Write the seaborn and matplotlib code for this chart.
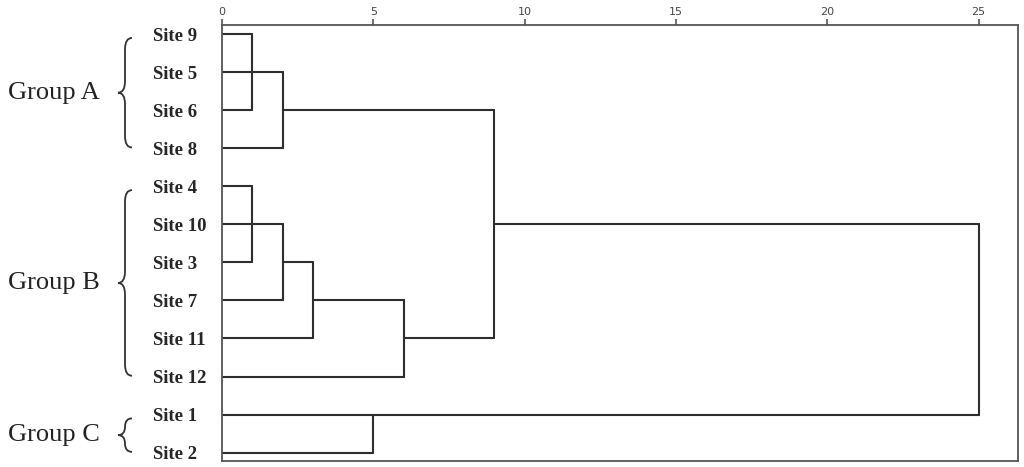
import numpy as np
import pandas as pd
import matplotlib
matplotlib.use("Agg")
import matplotlib.pyplot as plt
import matplotlib.transforms as mtransforms
from matplotlib.path import Path
from matplotlib.patches import PathPatch
import seaborn as sns

# leaf order, top to bottom
sites = ["Site 9", "Site 5", "Site 6", "Site 8", "Site 4", "Site 10",
         "Site 3", "Site 7", "Site 11", "Site 12", "Site 1", "Site 2"]
# merges: (left member, right member, rescaled distance)
merge_left = ["Site 9", "n0", "n1", "Site 4", "n3", "n4", "n5", "n6", "n2", "Site 1", "n8"]
merge_right = ["Site 6", "Site 5", "Site 8", "Site 3", "Site 10", "Site 7", "Site 11", "Site 12", "n7", "Site 2", "n9"]
merge_dist = [1, 1, 2, 1, 1, 2, 3, 6, 9, 5, 25]
xticks = [0, 5, 10, 15, 20, 25]

groups = ["Group A", "Group B", "Group C"]
group_first = ["Site 9", "Site 4", "Site 1"]
group_last = ["Site 8", "Site 12", "Site 2"]

# build the dendrogram segments (SPSS style)
pos = {s: (0.0, float(i)) for i, s in enumerate(sites)}
rows = []
for k, (a, b, h) in enumerate(zip(merge_left, merge_right, merge_dist)):
    xa, ya = pos[a]
    xb, yb = pos[b]
    seg = f"s{k}"
    rows += [(seg + "a", xa, ya), (seg + "a", h, ya),
             (seg + "v", h, ya), (seg + "v", h, yb),
             (seg + "b", xb, yb), (seg + "b", h, yb)]
    pos[f"n{k}"] = (h, float(np.floor((ya + yb) / 2)))
df = pd.DataFrame(rows, columns=["seg", "dist", "row"])

sns.set_style("white")
fig = plt.figure(figsize=(10.24, 4.67), dpi=100)
ax = fig.add_axes([222 / 1024, 6 / 467, 796 / 1024, 436 / 467])

sns.lineplot(data=df, x="dist", y="row", units="seg", estimator=None,
             sort=False, color="#2e2e2e", linewidth=1.5, ax=ax)

ax.set_xlim(0, 26.3)
ax.set_ylim(11.22, -0.24)
ax.set_xlabel("")
ax.set_ylabel("")
ax.xaxis.tick_top()
ax.set_xticks(xticks)
ax.set_xticklabels([str(t) for t in xticks], fontsize=8, color="#444444",
                   family="DejaVu Sans")
ax.tick_params(axis="x", length=4, width=1.2, color="#555555", pad=2)
ax.set_yticks(range(len(sites)))
ax.set_yticklabels(sites, fontsize=13.5, fontweight="bold",
                   family="Liberation Serif", ha="left")
ax.tick_params(axis="y", length=0, pad=50)
for sp in ax.spines.values():
    sp.set_color("#555555")
    sp.set_linewidth(1.3)

# group labels with braces
trans = mtransforms.blended_transform_factory(ax.transAxes, ax.transData)
xl, xm, xr = (118 - 222) / 796, (125 - 222) / 796, (132 - 222) / 796
for g, f, l in zip(groups, group_first, group_last):
    y0 = sites.index(f) + 0.1
    y1 = sites.index(l) - 0.02
    ym = (y0 + y1) / 2
    r = min(0.3, (y1 - y0) / 4)
    verts = [(xr, y0), (xm, y0), (xm, y0 + r), (xm, ym - r),
             (xm, ym), (xl, ym), (xm, ym), (xm, ym + r),
             (xm, y1 - r), (xm, y1), (xr, y1)]
    codes = [Path.MOVETO, Path.CURVE3, Path.CURVE3, Path.LINETO,
             Path.CURVE3, Path.CURVE3, Path.CURVE3, Path.CURVE3,
             Path.LINETO, Path.CURVE3, Path.CURVE3]
    ax.add_patch(PathPatch(Path(verts, codes), transform=trans, fill=False,
                           edgecolor="#333333", linewidth=1.3, clip_on=False))
    ax.text((100 - 222) / 796, ym, g, transform=trans, ha="right", va="center",
            fontsize=19, family="Liberation Serif", color="#222222")

fig.savefig("out.png", dpi=100)
